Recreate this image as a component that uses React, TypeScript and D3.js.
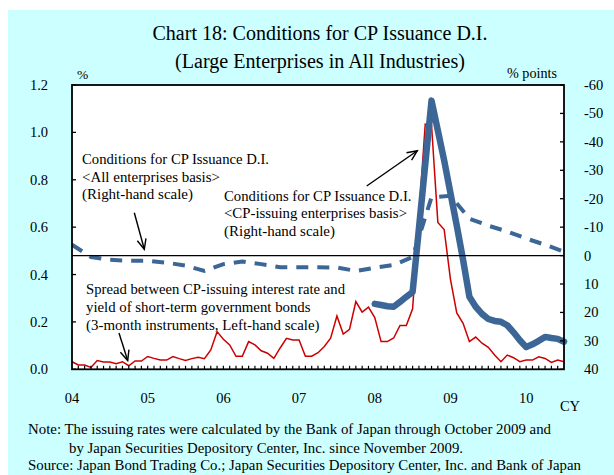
import React from "react";
import * as d3 from "d3";

// ---- data ----
const yearLabels = ["04", "05", "06", "07", "08", "09", "10"];
const leftTicks = [0, 0.2, 0.4, 0.6, 0.8, 1.0, 1.2];
const rightTicks = [-60, -50, -40, -30, -20, -10, 0, 10, 20, 30, 40];

// Spread (monthly, Jan 2004 .. Jul 2010), left-hand scale, %
const spread = [
  0.032, 0.018, 0.018, 0.008, 0.037, 0.031, 0.031, 0.024, 0.032, 0.015, 0.035, 0.035,
  0.054, 0.046, 0.039, 0.039, 0.054, 0.045, 0.037, 0.045, 0.051, 0.045, 0.082, 0.159,
  0.127, 0.103, 0.055, 0.055, 0.117, 0.103, 0.078, 0.068, 0.046, 0.09, 0.131, 0.124,
  0.124, 0.055, 0.055, 0.07, 0.096, 0.131, 0.225, 0.149, 0.169, 0.286, 0.241, 0.262,
  0.218, 0.117, 0.117, 0.132, 0.185, 0.185, 0.255, 0.65, 1.035, 1.03, 0.62, 0.59,
  0.38, 0.238, 0.194, 0.117, 0.136, 0.11, 0.093, 0.06, 0.032, 0.06, 0.049, 0.032,
  0.039, 0.039, 0.053, 0.046, 0.029, 0.039, 0.032,
];

// CP-issuing enterprises basis D.I. (monthly from Jan 2008), right-hand scale
const cpIssuingStart = 48;
const cpIssuingDI = [
  17.0, 17.4, 17.8, 18.0, 16.3, 14.5, 12.8, -9.5, -32, -54.5, -44, -33.5,
  -22, -10.5, 1.5, 14.5, 18, 20.5, 22.3, 23, 23.3, 24.5, 27, 29.8,
  32.2, 31.2, 30, 28.6, 29, 29.3, 30.3,
];

// All enterprises basis D.I. (quarterly, every 3 months from Jan 2004), right-hand scale
const allStep = 3;
const allEntDI = [
  -3.8, 0.5, 1.5, 1.8, 1.8, 2.5, 3.5, 5.4, 3.0, 2.1, 3.0, 4.1, 4.1, 4.1,
  4.2, 5.4, 4.3, 3.3, 0.5, -20.5, -21, -13, -10.5, -8.5, -6, -3.8, -1.4,
];

const nMonths = 78;

// ---- layout ----
const W = 614;
const H = 475;
const PL = 72, PR = 564, PT = 85, PB = 369.3;
const FONT = "'Liberation Serif', 'Times New Roman', serif";
const BLUE = "#3B6696";
const RED = "#CC0000";

const x = d3.scaleLinear().domain([0, nMonths]).range([PL, PR]);
const yL = d3.scaleLinear().domain([0, 1.2]).range([PB, PT]);
const yR = d3.scaleLinear().domain([40, -60]).range([PB, PT]);

function Arrow({ x1, y1, x2, y2 }: { x1: number; y1: number; x2: number; y2: number }) {
  const ang = Math.atan2(y2 - y1, x2 - x1);
  const len = 11;
  const spread = (24 * Math.PI) / 180;
  const a1 = ang + Math.PI - spread;
  const a2 = ang + Math.PI + spread;
  const p1 = [x2 + len * Math.cos(a1), y2 + len * Math.sin(a1)];
  const p2 = [x2 + len * Math.cos(a2), y2 + len * Math.sin(a2)];
  return (
    <g stroke="#000" strokeWidth={1.4} fill="none">
      <line x1={x1} y1={y1} x2={x2} y2={y2} />
      <polyline points={`${p1[0]},${p1[1]} ${x2},${y2} ${p2[0]},${p2[1]}`} />
    </g>
  );
}

function T({
  x: tx, y: ty, w, size, children, anchor = "start",
}: { x: number; y: number; w?: number; size: number; children: React.ReactNode; anchor?: string }) {
  const extra: any = w ? { textLength: w, lengthAdjust: "spacingAndGlyphs" } : {};
  return (
    <text x={tx} y={ty} fontSize={size} fontFamily={FONT} fill="#000" textAnchor={anchor as any} {...extra}>
      {children}
    </text>
  );
}

export default function App() {
  const spreadLine = d3
    .line<number>()
    .x((_, i) => x(i))
    .y((d) => yL(d))(spread) as string;
  const cpLine = d3
    .line<number>()
    .x((_, i) => x(cpIssuingStart + i))
    .y((d) => yR(d))(cpIssuingDI) as string;
  const allLine = d3
    .line<number>()
    .x((_, i) => x(i * allStep))
    .y((d) => yR(d))(allEntDI) as string;

  const monthTicks = d3.range(1, nMonths);

  return (
    <svg
      width={W}
      height={H}
      viewBox={`0 0 ${W} ${H}`}
      style={{ position: "absolute", left: 0, top: 0, display: "block" }}
    >
      <rect x={0} y={0} width={W} height={H} fill="#fff" />
      <rect x={8} y={10} width={W - 8} height={H - 10} fill="#CCFFFF" />

      {/* title */}
      <T x={320} y={39.5} w={335} size={20.5} anchor="middle">Chart 18: Conditions for CP Issuance D.I.</T>
      <T x={320} y={67.5} w={290} size={20.5} anchor="middle">(Large Enterprises in All Industries)</T>

      {/* plot area */}
      <rect x={PL} y={PT} width={PR - PL} height={PB - PT} fill="#fff" />

      {/* series */}
      <path d={allLine} fill="none" stroke={BLUE} strokeWidth={4} strokeDasharray="12,9" />
      <path d={spreadLine} fill="none" stroke={RED} strokeWidth={1.5} strokeLinejoin="miter" />
      <path d={cpLine} fill="none" stroke={BLUE} strokeWidth={6.5} strokeLinejoin="round" strokeLinecap="round" />

      {/* zero line of right scale */}
      <line x1={PL} x2={PR} y1={yR(0)} y2={yR(0)} stroke="#000" strokeWidth={1.3} />

      {/* frame */}
      <rect x={PL} y={PT} width={PR - PL} height={PB - PT} fill="none" stroke="#000" strokeWidth={1.8} />

      {/* left ticks */}
      {leftTicks.map((t) => (
        <g key={"l" + t}>
          <line x1={PL} x2={PL + 4} y1={yL(t)} y2={yL(t)} stroke="#000" strokeWidth={1.3} />
          <T x={48} y={yL(t) + 5} size={14.5} anchor="end">{t.toFixed(1)}</T>
        </g>
      ))}

      {/* right ticks */}
      {rightTicks.map((t) => (
        <g key={"r" + t}>
          <line x1={PR - 4} x2={PR} y1={yR(t)} y2={yR(t)} stroke="#000" strokeWidth={1.3} />
          <T x={584} y={yR(t) + 5} size={14.5}>{String(t)}</T>
        </g>
      ))}

      {/* month ticks */}
      {monthTicks.map((m) => (
        <line key={"m" + m} x1={x(m)} x2={x(m)} y1={PB} y2={PB - 3.5} stroke="#000" strokeWidth={1.2} />
      ))}

      {/* year labels */}
      {yearLabels.map((lab, k) => (
        <T key={lab} x={x(k * 12)} y={403} size={14.5} anchor="middle">{lab}</T>
      ))}
      <T x={570} y={411} size={14.5} anchor="middle">CY</T>

      {/* unit labels */}
      <T x={77} y={78.5} size={13.5}>%</T>
      <T x={507} y={77.5} w={50} size={14.2}>% points</T>

      {/* annotations */}
      <T x={82} y={164} w={187} size={14.5}>Conditions for CP Issuance D.I.</T>
      <T x={82} y={181.7} w={138} size={14.5}>{"<All enterprises basis>"}</T>
      <T x={82} y={199.3} w={111} size={14.5}>(Right-hand scale)</T>
      <Arrow x1={134.3} y1={212.7} x2={144.3} y2={249.3} />

      <T x={224} y={200.7} w={187.5} size={14.5}>Conditions for CP Issuance D.I.</T>
      <T x={224} y={218.3} w={183} size={14.5}>{"<CP-issuing enterprises basis>"}</T>
      <T x={224} y={236} w={111} size={14.5}>(Right-hand scale)</T>
      <Arrow x1={366.7} y1={186} x2={417.3} y2={150.7} />

      <T x={86} y={294.3} w={259} size={14.5}>Spread between CP-issuing interest rate and</T>
      <T x={86} y={312.3} w={224.5} size={14.5}>yield of short-term government bonds</T>
      <T x={86} y={330} w={233.5} size={14.5}>(3-month instruments, Left-hand scale)</T>
      <Arrow x1={119} y1={333} x2={127.7} y2={360.5} />

      {/* notes */}
      <T x={28} y={434.3} w={523} size={14}>Note: The issuing rates were calculated by the Bank of Japan through October 2009 and</T>
      <T x={69} y={453.3} w={394} size={14}>by Japan Securities Depository Center, Inc. since November 2009.</T>
      <T x={28} y={469.5} w={553} size={14}>Source: Japan Bond Trading Co.; Japan Securities Depository Center, Inc. and Bank of Japan</T>
    </svg>
  );
}
